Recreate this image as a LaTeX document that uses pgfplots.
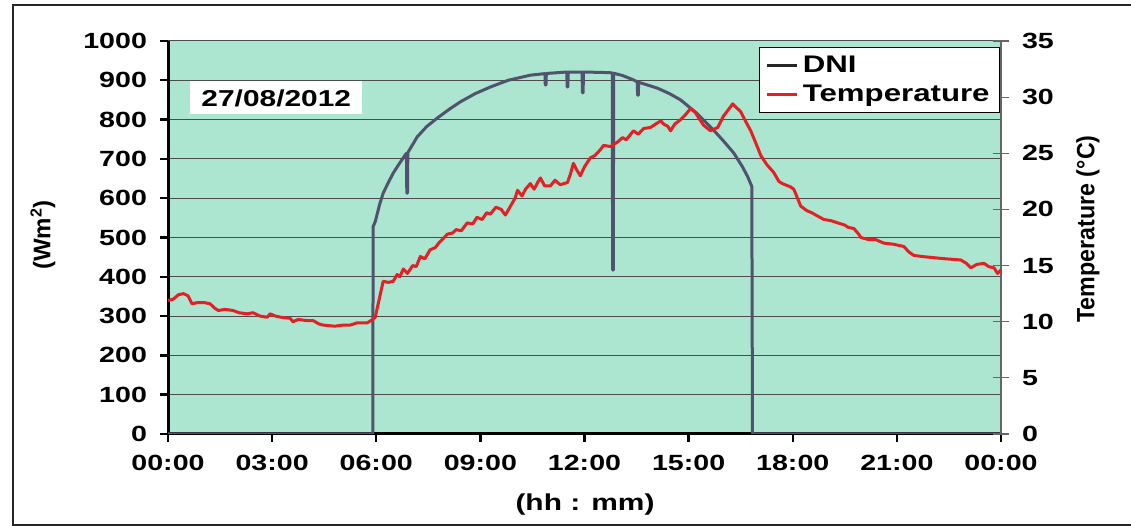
\documentclass[border=0pt]{standalone}
\usepackage{fontspec}
\setmainfont{Liberation Sans}[FakeStretch=1.3]
\newfontfamily\rotfont{Liberation Sans}
\usepackage{pgfplots}
\usepackage{pgfplotstable}
\pgfplotsset{compat=1.18}

\definecolor{plotbg}{RGB}{172,229,208}
\definecolor{dnicol}{RGB}{80,82,110}
\definecolor{tempcol}{RGB}{228,32,36}

% Direct normal irradiance, W/m^2, against hour of day
\pgfplotstableread{
h dni
0.00 0
5.90 0
5.91 528
5.97 540
6.10 585
6.20 613
6.35 640
6.49 664
6.65 686
6.85 712
6.87 714
6.88 613
6.90 613
6.91 716
7.18 756
7.45 782
7.76 804
8.10 826
8.42 845
8.85 866
9.29 883
9.80 900
10.44 913
10.86 917
10.87 888
10.89 888
10.90 917
11.00 918
11.49 921
11.50 883
11.52 883
11.53 921
11.93 921
11.94 868
11.96 868
11.97 921
12.50 920
12.80 919
12.81 417
12.83 417
12.84 918
13.10 912
13.41 901
13.52 896
13.53 862
13.55 862
13.56 895
14.10 880
14.45 866
14.77 850
15.25 815
15.72 773
16.00 746
16.30 715
16.55 680
16.70 655
16.82 630
16.84 0
24.00 0
}\dnidata

% Ambient temperature, deg C, against hour of day
\pgfplotstableread{
h t
0.00 11.9
0.15 12.0
0.30 12.4
0.45 12.5
0.58 12.3
0.69 11.6
0.85 11.7
1.05 11.7
1.21 11.6
1.35 11.2
1.45 11.0
1.65 11.1
1.87 11.0
2.05 10.8
2.28 10.7
2.45 10.8
2.65 10.5
2.86 10.4
2.94 10.7
3.10 10.5
3.25 10.4
3.52 10.3
3.60 10.0
3.75 10.2
4.00 10.1
4.18 10.1
4.35 9.8
4.47 9.7
4.80 9.6
5.05 9.7
5.25 9.7
5.45 9.9
5.74 9.9
5.90 10.2
5.97 10.4
6.10 12.2
6.20 13.6
6.35 13.5
6.49 13.6
6.60 14.2
6.68 14.0
6.78 14.7
6.90 14.3
7.05 15.0
7.15 14.9
7.27 15.8
7.40 15.6
7.55 16.4
7.70 16.6
7.80 17.0
7.93 17.4
8.05 17.8
8.20 17.9
8.30 18.2
8.45 18.1
8.62 18.8
8.78 18.7
8.90 19.3
9.05 19.1
9.18 19.7
9.29 19.6
9.45 20.2
9.60 20.0
9.72 19.5
9.85 20.2
10.00 21.0
10.07 21.7
10.20 21.2
10.30 21.8
10.44 22.3
10.55 21.8
10.65 22.4
10.73 22.8
10.85 22.1
11.02 22.1
11.15 22.6
11.30 22.2
11.51 22.4
11.60 23.2
11.68 24.1
11.78 23.5
11.88 23.0
12.00 23.8
12.17 24.6
12.30 24.8
12.45 25.3
12.55 25.7
12.75 25.6
12.95 26.0
13.10 26.4
13.20 26.2
13.41 27.0
13.55 26.7
13.70 27.2
13.90 27.3
14.05 27.6
14.20 27.9
14.28 27.6
14.40 27.4
14.48 27.0
14.60 27.6
14.77 28.0
14.90 28.4
15.06 29.0
15.20 28.6
15.30 28.1
15.43 27.5
15.55 27.2
15.63 27.0
15.84 27.3
16.00 28.3
16.15 28.9
16.27 29.4
16.40 29.0
16.50 28.7
16.65 27.8
16.79 27.0
16.95 25.8
17.08 24.8
17.25 24.0
17.45 23.3
17.60 22.5
17.70 22.3
17.94 22.0
18.03 21.8
18.15 20.9
18.23 20.3
18.40 19.9
18.55 19.7
18.72 19.4
18.90 19.1
19.10 19.0
19.30 18.8
19.50 18.6
19.60 18.4
19.76 18.3
19.90 17.8
19.96 17.5
20.20 17.3
20.40 17.3
20.62 17.0
20.90 16.9
21.20 16.7
21.35 16.2
21.49 15.9
21.75 15.8
22.07 15.7
22.40 15.6
22.84 15.5
23.00 15.2
23.13 14.8
23.30 15.1
23.51 15.2
23.65 14.9
23.80 14.8
23.90 14.3
24.00 14.6
}\tempdata

\begin{document}
\begin{tikzpicture}
\path[use as bounding box] (0,0) rectangle (565.5pt,264pt);
\draw[black!85, line width=0.8pt] (6.5pt,1.5pt) rectangle (580pt,261.5pt);

\begin{axis}[
  at={(84pt,47pt)}, anchor=south west,
  scale only axis, width=416.5pt, height=196.5pt,
  xmin=0, xmax=24, ymin=0, ymax=1000,
  xtick={0,3,...,24},
  xticklabels={00:00,03:00,06:00,09:00,12:00,15:00,18:00,21:00,00:00},
  ytick={0,100,...,1000},
  axis x line*=bottom, axis y line*=left,
  axis line style={line width=1.5pt, black, -},
  tick align=outside, major tick length=4pt,
  tick style={line width=1.2pt, black},
  ymajorgrids, grid style={black!70, line width=0.5pt},
  axis background/.style={fill=plotbg},
  ticklabel style={font=\bfseries\fontsize{11}{11}\selectfont},
  yticklabel style={xshift=-3pt},
  xticklabel style={yshift=-3pt},
  /pgf/number format/assume math mode=true,
  /pgf/number format/1000 sep={},
]
\addplot[dnicol, line width=1.5pt, line join=round] table[x=h, y=dni] {\dnidata};
\node[fill=white, inner xsep=5.5pt, minimum height=16.5pt,
      font=\bfseries\fontsize{11.5}{11.5}\selectfont]
  at (rel axis cs:0.13,0.855) {27/08/2012};
\end{axis}

\begin{axis}[
  at={(84pt,47pt)}, anchor=south west,
  scale only axis, width=416.5pt, height=196.5pt,
  xmin=0, xmax=24, ymin=0, ymax=35,
  ytick={0,5,...,35},
  axis x line=none, axis y line*=right,
  axis line style={black!60, line width=0.6pt, -},
  tick align=center, major tick length=8pt,
  tick style={black!60, line width=0.6pt},
  ticklabel style={font=\bfseries\fontsize{11}{11}\selectfont},
  yticklabel style={xshift=3pt},
  /pgf/number format/assume math mode=true,
  legend style={at={(rel axis cs:0.999,0.985)}, anchor=north east,
    draw=black, line width=0.6pt, fill=white,
    font=\bfseries\fontsize{12}{12}\selectfont,
    inner xsep=3pt, inner ysep=2pt, row sep=1pt,
    cells={anchor=west}},
  legend image code/.code={\draw[#1] (0pt,0pt) -- (15pt,0pt);},
]
\addlegendimage{black!85, line width=1.5pt}
\addlegendentry{DNI}
\addplot[tempcol, line width=1.5pt, line join=round] table[x=h, y=t] {\tempdata};
\addlegendentry{Temperature}
\end{axis}

\node[font=\bfseries\fontsize{11.5}{11.5}\selectfont] at (292.5pt,11.5pt) {(hh : mm)};
\node[rotate=90, font=\rotfont\bfseries\fontsize{12}{12}\selectfont] at (21.5pt,146.5pt) {(Wm\textsuperscript{2})};
\node[rotate=90, font=\rotfont\bfseries\fontsize{12.5}{12.5}\selectfont] at (544pt,149.5pt) {\scalebox{0.93}[1]{Temperature (°C)}};
\end{tikzpicture}
\end{document}
